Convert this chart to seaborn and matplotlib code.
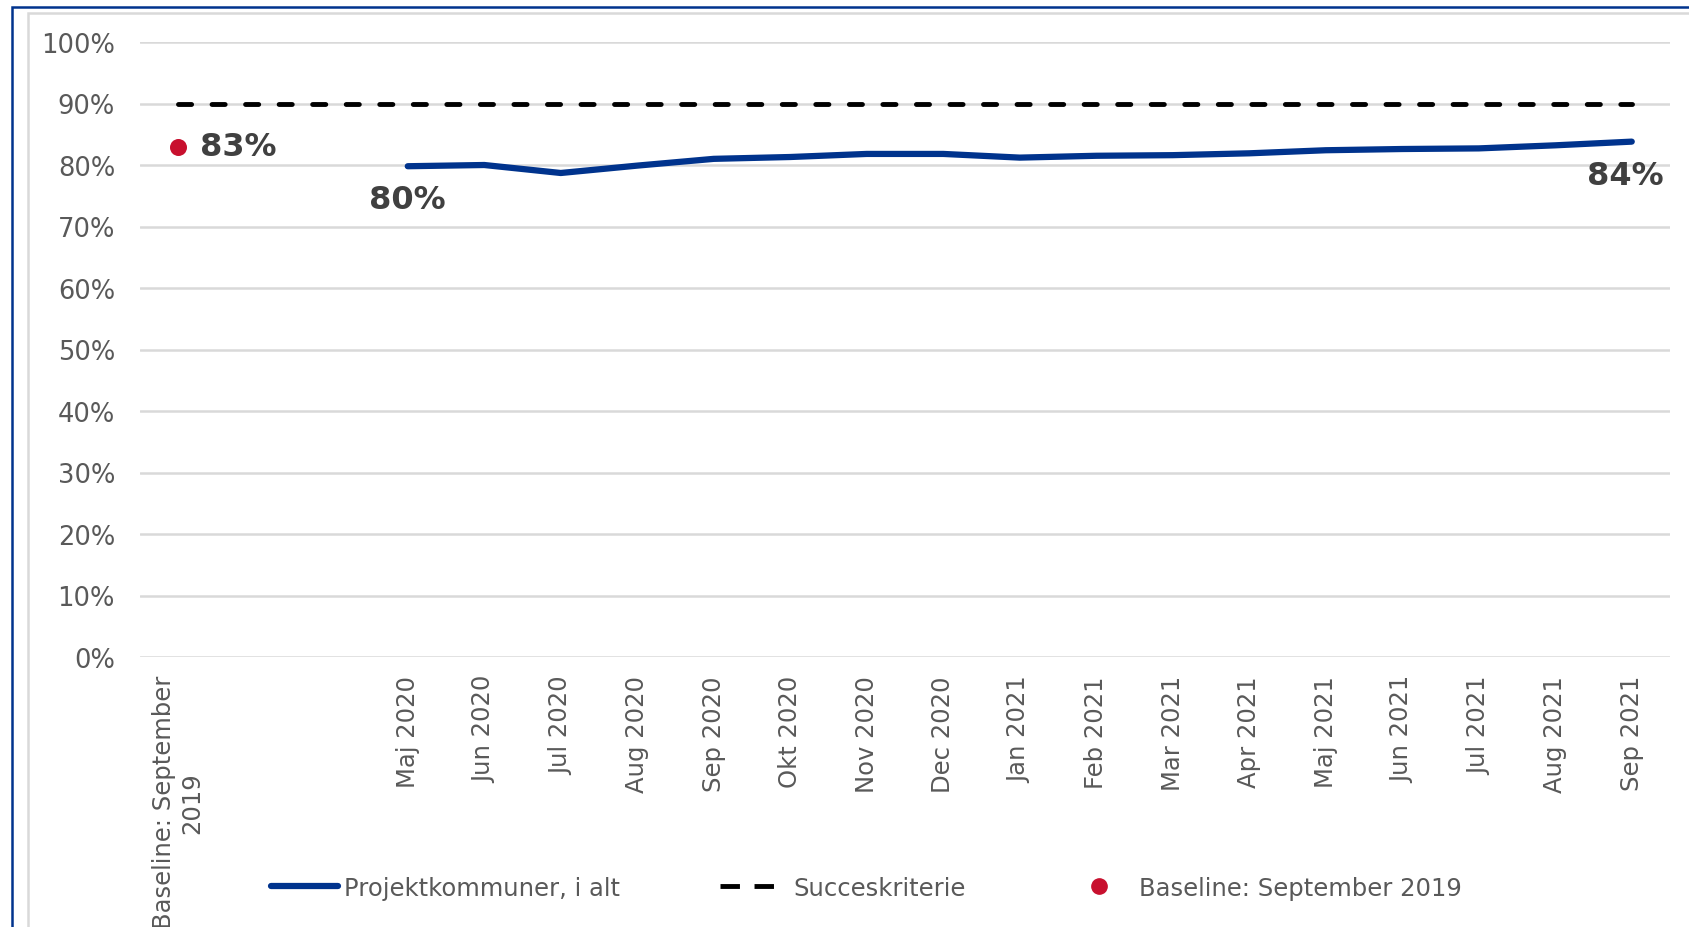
import numpy as np
import pandas as pd
import matplotlib.pyplot as plt
import seaborn as sns
from matplotlib.patches import Rectangle
from matplotlib.lines import Line2D

# Categories (two empty slots between baseline and first month)
categories = ['Baseline: September\n2019', '', '',
              'Maj 2020', 'Jun 2020', 'Jul 2020', 'Aug 2020', 'Sep 2020', 'Okt 2020',
              'Nov 2020', 'Dec 2020', 'Jan 2021', 'Feb 2021', 'Mar 2021', 'Apr 2021',
              'Maj 2021', 'Jun 2021', 'Jul 2021', 'Aug 2021', 'Sep 2021']
projekt = [79.8, 80.0, 78.7, 79.9, 81.0, 81.3, 81.8, 81.8, 81.2, 81.5, 81.6,
           81.9, 82.4, 82.6, 82.7, 83.2, 83.8]
baseline_value = 83.0
target = 90.0

navy = '#00338D'
red = '#C8102E'
grey_text = '#595959'

sns.set_style('white')
plt.rcParams['font.family'] = ['DejaVu Sans']

fig = plt.figure(figsize=(16.89, 9.28), dpi=100)
ax = fig.add_axes([140 / 1689, 1 - 658 / 928, 1530 / 1689, 615 / 928])

x_pos = np.arange(len(categories))
df_line = pd.DataFrame({'x': x_pos[3:], 'y': projekt})
df_target = pd.DataFrame({'x': x_pos, 'y': [target] * len(categories)})

# target line (dashed) and the main series
sns.lineplot(data=df_target, x='x', y='y', ax=ax, color='black', lw=3.5,
             linestyle=(0, (2.7, 4.2)), dash_capstyle='round', zorder=3)
sns.lineplot(data=df_line, x='x', y='y', ax=ax, color=navy, lw=4.5,
             solid_capstyle='round', zorder=4)
ax.scatter([x_pos[0]], [baseline_value], s=150, color=red, zorder=5, linewidths=0)

bold = dict(fontsize=23, fontweight='bold', color='#404040')
ax.annotate(f'{baseline_value:.0f}%', (x_pos[0], baseline_value), xytext=(22, 0),
            textcoords='offset pixels', ha='left', va='center', **bold)
ax.annotate(f'{projekt[0]:.0f}%', (x_pos[3], projekt[0]), xytext=(0, -33),
            textcoords='offset pixels', ha='center', va='center', **bold)
ax.annotate(f'{projekt[-1]:.0f}%', (x_pos[-1], projekt[-1]), xytext=(-6, -34),
            textcoords='offset pixels', ha='center', va='center', **bold)

ax.set_xlim(-0.5, len(categories) - 0.5)
ax.set_ylim(0, 100)
ax.set_yticks(np.arange(0, 101, 10))
ax.set_yticklabels([f'{v}%' for v in range(0, 101, 10)])
ax.set_xticks(x_pos)
ax.set_xticklabels(categories, rotation=90, ha='center', va='top')
ax.tick_params(axis='both', length=0, labelcolor=grey_text)
ax.tick_params(axis='y', pad=18, labelsize=18.5)
ax.tick_params(axis='x', pad=13, labelsize=17.5)
ax.grid(axis='y', color='#D9D9D9', lw=1.8)
ax.set_axisbelow(True)
for s in ax.spines.values():
    s.set_visible(False)
ax.set_xlabel('')
ax.set_ylabel('')

# frames
fig.patches.append(Rectangle((12 / 1689, -0.1), 1.2, 1 - 8 / 928 + 0.1,
                             transform=fig.transFigure, fill=False,
                             edgecolor=navy, lw=1.8, zorder=0))
fig.patches.append(Rectangle((28 / 1689, -0.1), 1.2, 1 - 14 / 928 + 0.1,
                             transform=fig.transFigure, fill=False,
                             edgecolor='#D9D9D9', lw=1.8, zorder=0))

handles = [Line2D([], [], color=navy, lw=4.5, solid_capstyle='round'),
           Line2D([], [], color='black', lw=3.5, linestyle=(0, (4, 3))),
           Line2D([], [], color=red, marker='o', ls='', markersize=11)]
labels = ['Projektkommuner, i alt', 'Succeskriterie', 'Baseline: September 2019']
fig.legend(handles, labels, loc='center', bbox_to_anchor=(0.513, 1 - 889 / 928),
           ncol=3, frameon=False, fontsize=17.5, labelcolor=grey_text,
           handlelength=2.75, handletextpad=0.27, columnspacing=4.1)

fig.savefig('out.png', dpi=100, facecolor='white')
